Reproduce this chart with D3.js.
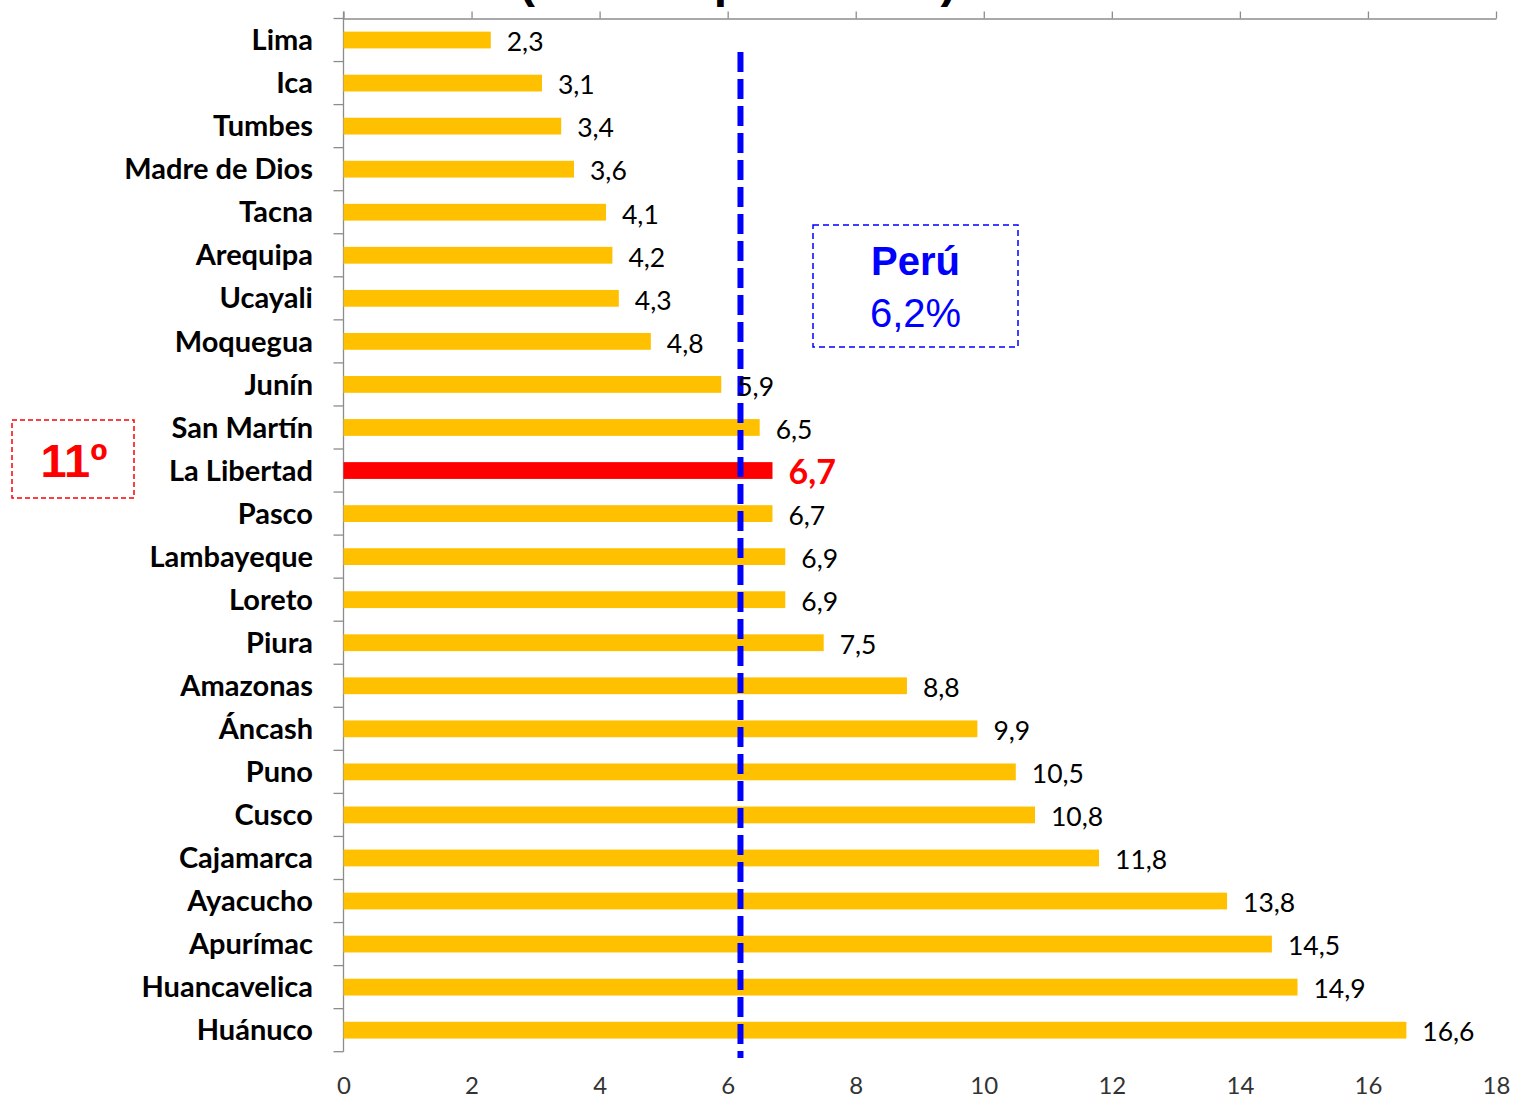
<!DOCTYPE html>
<html>
<head>
<meta charset="utf-8">
<script src="https://cdn.jsdelivr.net/npm/d3@7"></script>
<style>
  html, body { margin: 0; padding: 0; background: #fff; }
  svg { display: block; }
</style>
</head>
<body>
<svg id="chart" width="1515" height="1099"></svg>
<script>
// Regions ordered from lowest to highest rate
const regions = ["Lima", "Ica", "Tumbes", "Madre de Dios", "Tacna", "Arequipa", "Ucayali", "Moquegua",
  "Junín", "San Martín", "La Libertad", "Pasco", "Lambayeque", "Loreto", "Piura", "Amazonas",
  "Áncash", "Puno", "Cusco", "Cajamarca", "Ayacucho", "Apurímac", "Huancavelica", "Huánuco"];
const values = [2.3, 3.1, 3.4, 3.6, 4.1, 4.2, 4.3, 4.8, 5.9, 6.5, 6.7, 6.7, 6.9, 6.9, 7.5, 8.8,
  9.9, 10.5, 10.8, 11.8, 13.8, 14.5, 14.9, 16.6];
const highlight = "La Libertad";
const rankLabel = "11º";
const nationalValue = 6.2;
const nationalName = "Perú";
const xTicks = [0, 2, 4, 6, 8, 10, 12, 14, 16, 18];
const titleText = "(% de la población)";

const data = regions.map((r, i) => ({ region: r, value: values[i] }));
const fmt = v => d3.format(".1f")(v).replace(".", ",");

const svg = d3.select("#chart");
const plotLeft = 343.5, plotRight = 1496, plotTop = 18.5, plotBottom = 1051.7;

const x = d3.scaleLinear().domain([0, 18]).range([plotLeft, plotRight]);
const y = d3.scaleBand().domain(regions).range([plotTop, plotBottom]).padding(0);
const barH = y.bandwidth() * 0.39;
const axisColor = "#8c8c8c";

// Title (sits mostly above the visible area)
svg.append("text")
  .attr("x", 519).attr("y", -3)
  .attr("font-family", "Liberation Sans, Arial, sans-serif")
  .attr("font-weight", "bold").attr("font-size", 48)
  .attr("fill", "#000")
  .text(titleText);

// Top value axis with outward ticks
const topAxis = d3.axisTop(x).tickValues(xTicks).tickSize(7).tickSizeOuter(0).tickFormat("");
const gTop = svg.append("g").attr("transform", `translate(0,${plotTop})`).call(topAxis);
gTop.select(".domain").attr("stroke", axisColor).attr("stroke-width", 1.3);
gTop.selectAll(".tick line").attr("stroke", axisColor).attr("stroke-width", 1.3);

// Bottom tick labels
const bottomAxis = d3.axisBottom(x).tickValues(xTicks).tickSize(0).tickPadding(0).tickFormat(d3.format("d"));
const gBot = svg.append("g").attr("transform", `translate(0,1086)`).call(bottomAxis);
gBot.select(".domain").remove();
gBot.selectAll(".tick text")
  .attr("dy", "0.35em")
  .attr("font-family", "Lato, Carlito, sans-serif")
  .attr("font-size", 24)
  .attr("fill", "#333");

// Category axis: vertical line and ticks at band boundaries
svg.append("line")
  .attr("x1", plotLeft).attr("x2", plotLeft).attr("y1", plotTop - 7).attr("y2", plotBottom)
  .attr("stroke", axisColor).attr("stroke-width", 1.3);
const bounds = regions.map(r => y(r)).concat([plotBottom]);
svg.append("g").selectAll("line").data(bounds).join("line")
  .attr("x1", plotLeft - 10).attr("x2", plotLeft)
  .attr("y1", d => d).attr("y2", d => d)
  .attr("stroke", axisColor).attr("stroke-width", 1.3);

// Category labels
svg.append("g").selectAll("text").data(data).join("text")
  .attr("x", 313)
  .attr("y", d => y(d.region) + y.bandwidth() / 2)
  .attr("dy", "0.35em")
  .attr("text-anchor", "end")
  .attr("font-family", "Lato, Carlito, sans-serif")
  .attr("font-weight", "bold")
  .attr("font-size", 29)
  .attr("fill", "#000")
  .text(d => d.region);

// Bars
svg.append("g").selectAll("rect").data(data).join("rect")
  .attr("x", x(0))
  .attr("y", d => y(d.region) + (y.bandwidth() - barH) / 2)
  .attr("width", d => x(d.value) - x(0))
  .attr("height", barH)
  .attr("fill", d => d.region === highlight ? "#ff0000" : "#ffc000");

// National average reference line
svg.append("line")
  .attr("x1", x(nationalValue)).attr("x2", x(nationalValue))
  .attr("y1", 52).attr("y2", 1058)
  .attr("stroke", "#0000ff").attr("stroke-width", 6)
  .attr("stroke-dasharray", "20 7");

// Value labels
svg.append("g").selectAll("text").data(data).join("text")
  .attr("x", d => x(d.value) + 16)
  .attr("y", d => y(d.region) + y.bandwidth() / 2 + 2)
  .attr("dy", "0.35em")
  .attr("font-family", "Lato, Carlito, sans-serif")
  .attr("font-weight", d => d.region === highlight ? "bold" : "normal")
  .attr("font-size", d => d.region === highlight ? 34 : 26.5)
  .attr("fill", d => d.region === highlight ? "#ff0000" : "#000")
  .text(d => fmt(d.value));

// National value callout
svg.append("rect")
  .attr("x", 813).attr("y", 225).attr("width", 205).attr("height", 122)
  .attr("fill", "none").attr("stroke", "#0000ff").attr("stroke-width", 1.5)
  .attr("stroke-dasharray", "6 4");
svg.append("text")
  .attr("x", 915.5).attr("y", 275)
  .attr("text-anchor", "middle")
  .attr("font-family", "Liberation Sans, Arial, sans-serif")
  .attr("font-weight", "bold").attr("font-size", 40)
  .attr("fill", "#0000ff")
  .text(nationalName);
svg.append("text")
  .attr("x", 915.5).attr("y", 327)
  .attr("text-anchor", "middle")
  .attr("font-family", "Liberation Sans, Arial, sans-serif")
  .attr("font-size", 40)
  .attr("fill", "#0000ff")
  .text(fmt(nationalValue) + "%");

// Rank callout
svg.append("rect")
  .attr("x", 12).attr("y", 420).attr("width", 122).attr("height", 78)
  .attr("fill", "none").attr("stroke", "#ff0000").attr("stroke-width", 1.5)
  .attr("stroke-dasharray", "5 3");
svg.append("text")
  .attr("x", 74).attr("y", 477)
  .attr("text-anchor", "middle")
  .attr("font-family", "Liberation Sans, Arial, sans-serif")
  .attr("font-weight", "bold").attr("font-size", 47)
  .attr("fill", "#ff0000")
  .text(rankLabel);
</script>
</body>
</html>
